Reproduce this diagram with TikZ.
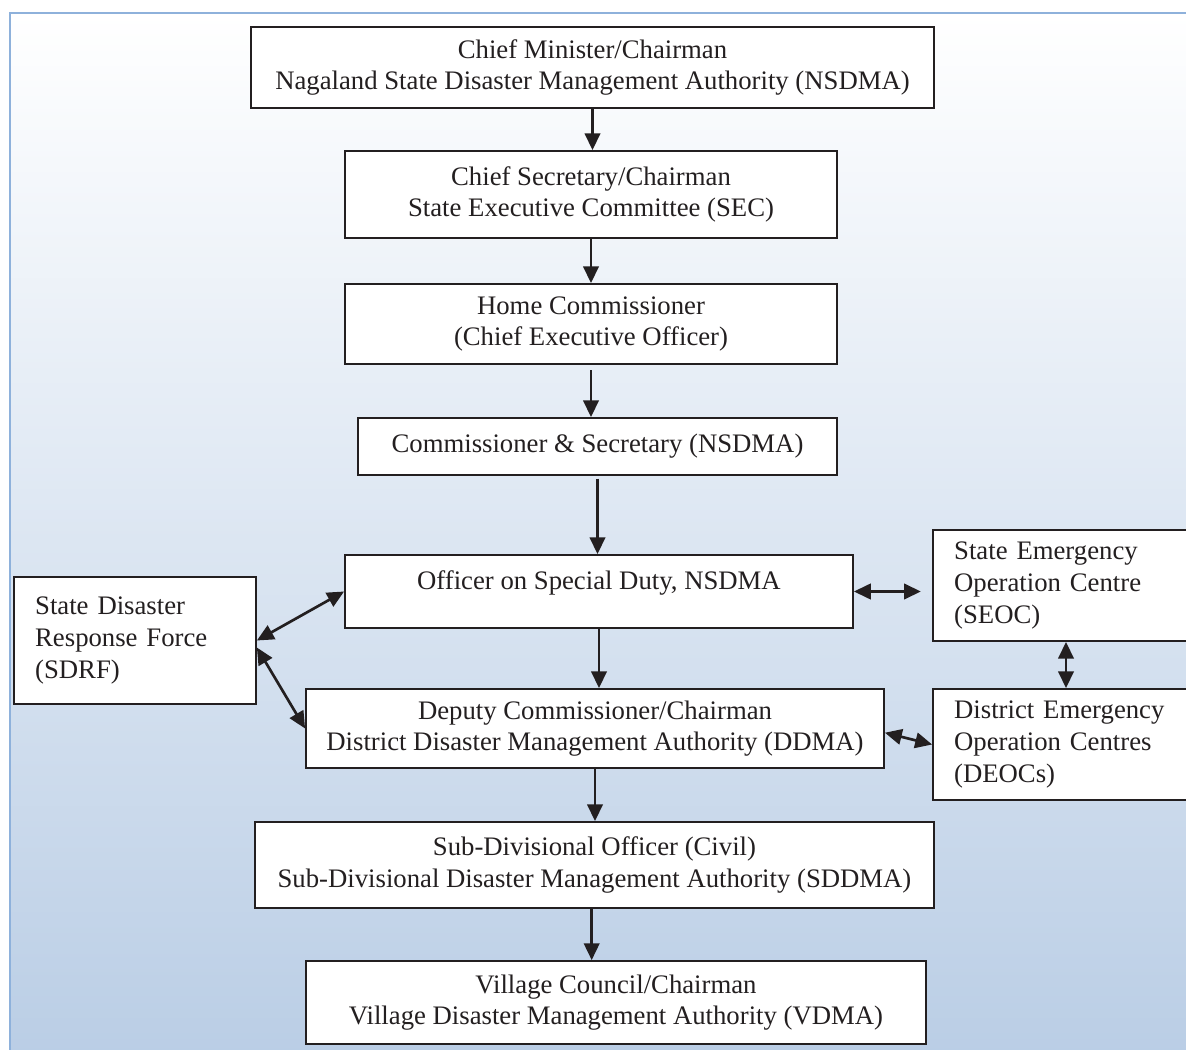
\documentclass[tikz,border=0pt]{standalone}
\usepackage{fontspec}
\setmainfont{Liberation Serif}
\usetikzlibrary{arrows.meta}
\definecolor{frameblue}{HTML}{8EB1DB}
\definecolor{shadeblue}{HTML}{B9CDE5}
\definecolor{inkgray}{HTML}{231F20}

\begin{document}
\begin{tikzpicture}[x=0.025cm,y=-0.025cm,
  box/.style={draw=inkgray,line width=1.2pt,fill=white,align=center,inner sep=0pt,
    font=\fontsize{19}{22.5}\selectfont,text=inkgray},
  sidebox/.style={box,align=left,inner xsep=0.53cm,text width=#1},
  link/.style={draw=inkgray,line width=1.9pt,-{Triangle[length=12pt,width=11pt]}},
  both/.style={link,{Triangle[length=12pt,width=11pt]}-{Triangle[length=12pt,width=11pt]}}]
  \useasboundingbox (0,0) rectangle (1186,1050);
  \shade[top color=white,bottom color=shadeblue] (10,13) rectangle (1210,1070);
  \draw[frameblue,line width=1.4pt] (10,1070) -- (10,13) -- (1210,13);

  \node[box,minimum width=17.075cm,minimum height=2.025cm] (cm) at (592.5,67.5)
    {Chief Minister/Chairman\\Nagaland State Disaster Management Authority (NSDMA)};
  \node[box,minimum width=12.3cm,minimum height=2.175cm] (sec) at (591,194.5)
    {Chief Secretary/Chairman\\State Executive Committee (SEC)};
  \node[box,minimum width=12.3cm,minimum height=2cm] (home) at (591,324)
    {Home Commissioner\\(Chief Executive Officer)};
  \node[box,minimum width=11.975cm,minimum height=1.425cm] (comsec) at (597.5,446.5)
    {Commissioner \& Secretary (NSDMA)};
  \node[box,minimum width=12.7cm,minimum height=1.825cm,text depth=16pt] (osd) at (599,591.5)
    {Officer on Special Duty, NSDMA};
  \node[sidebox=4.99cm,minimum height=3.175cm] (sdrf) at (135,640.5)
    {State Disaster\\Response Force\\(SDRF)};
  \node[sidebox=5.59cm,minimum height=2.775cm] (seoc) at (1066,585.5)
    {State Emergency\\Operation Centre\\(SEOC)};
  \node[box,minimum width=14.45cm,minimum height=1.975cm] (ddma) at (595,728.5)
    {Deputy Commissioner/Chairman\\District Disaster Management Authority (DDMA)};
  \node[sidebox=5.59cm,minimum height=2.775cm] (deoc) at (1066,744.5)
    {District Emergency\\Operation Centres\\(DEOCs)};
  \node[box,minimum width=16.975cm,minimum height=2.15cm] (sdo) at (594.5,865)
    {Sub-Divisional Officer (Civil)\\Sub-Divisional Disaster Management Authority (SDDMA)};
  \node[box,minimum width=15.5cm,minimum height=2.075cm] (vdma) at (616,1002.5)
    {Village Council/Chairman\\Village Disaster Management Authority (VDMA)};

  \draw[link] (cm.south) -- (cm.south |- sec.north);
  \draw[link] (sec.south) -- (sec.south |- home.north);
  \draw[link,shorten <=4pt] (home.south) -- (home.south |- comsec.north);
  \draw[link,shorten <=2pt] (comsec.south) -- (comsec.south |- osd.north);
  \draw[link] (osd.south) -- (osd.south |- ddma.north);
  \draw[link] (ddma.south) -- (ddma.south |- sdo.north);
  \draw[link] ([xshift=-2pt]sdo.south) -- ([xshift=-2pt]sdo.south |- vdma.north);
  \draw[both,shorten >=8pt] (osd.east) -- (osd.east -| seoc.west);
  \draw[both] (seoc.south) -- (deoc.north);
  \draw[both] ([yshift=-3pt]ddma.east) -- (deoc.west);
  \draw[both] (sdrf.east) -- (osd.west);
  \draw[both] ([yshift=-5pt]sdrf.east) -- (ddma.west);
\end{tikzpicture}
\end{document}
